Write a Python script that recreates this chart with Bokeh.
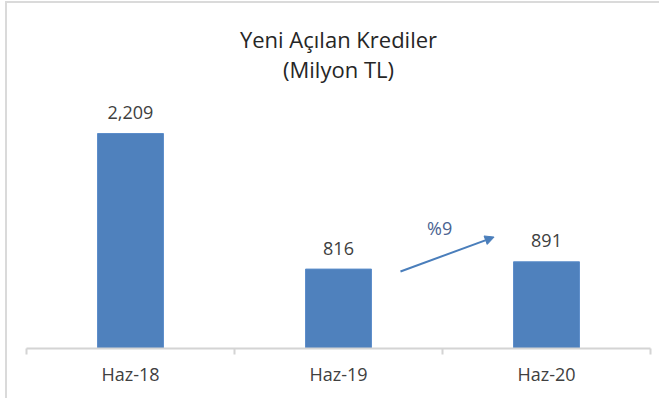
from bokeh.plotting import figure
from bokeh.models import (ColumnDataSource, Range1d, LinearAxis, FixedTicker,
                          LabelSet, Label, Arrow, NormalHead)
from bokeh.core.properties import value
from bokeh.embed import file_html
from bokeh.resources import INLINE

# ---- data ----
categories = ["Haz-18", "Haz-19", "Haz-20"]
values = [2209, 816, 891]
value_labels = [f"{v:,}" for v in values]
title_lines = ["Yeni Açılan Krediler", "(Milyon TL)"]
growth_label = "%9"

BAR = "#4F81BD"
FONT = "Open Sans"
GRID = "#d4d4d4"

centers = [i + 0.5 for i in range(len(categories))]
bounds = list(range(len(categories) + 1))
src = ColumnDataSource(dict(x=centers, val=values, lab=value_labels))

W, H = 654, 397
p = figure(width=W, height=H, output_backend="svg", toolbar_location=None,
           x_range=Range1d(0, len(categories)),
           y_range=Range1d(0, 3545), x_axis_type=None, y_axis_type=None,
           min_border_left=19, min_border_right=11, min_border_top=0, min_border_bottom=52)
p.outline_line_color = None
p.grid.visible = False
p.background_fill_color = "white"
p.border_fill_color = "white"
p.styles = {"margin-left": "5px", "margin-top": "1px",
            "border-left": "2px solid #dadada", "border-top": "2px solid #dadada"}

p.vbar(x="x", top="val", width=0.317, source=src, fill_color=BAR, line_color="#5b8dca", line_width=1)

# bottom axis: labels at category centers, tick marks at category boundaries
ax = LinearAxis(ticker=FixedTicker(ticks=centers, minor_ticks=bounds))
ax.major_label_overrides = {c: name for c, name in zip(centers, categories)}
ax.major_tick_line_color = None
ax.major_tick_out = 0
ax.major_tick_in = 0
ax.minor_tick_line_color = GRID
ax.minor_tick_line_width = 2
ax.minor_tick_out = 6
ax.minor_tick_in = 0
ax.axis_line_color = GRID
ax.axis_line_width = 2
ax.major_label_standoff = 7
ax.major_label_text_font = FONT
ax.major_label_text_font_size = "18px"
ax.major_label_text_color = "#404040"
p.add_layout(ax, "below")

labels = LabelSet(x="x", y="val", text="lab", source=src, y_offset=21,
                  text_align="center", text_baseline="middle",
                  text_font=value(FONT), text_font_size=value("18px"), text_color="#404040")
p.add_layout(labels)

for txt, yv in zip(title_lines, [3185, 2867]):
    p.add_layout(Label(x=1.5, y=yv, text=txt, text_align="center",
                       text_baseline="alphabetic", text_font=FONT, text_font_size="22px",
                       text_color="#262626"))

p.add_layout(Arrow(x_start=1.798, y_start=791, x_end=2.248, y_end=1145,
                   line_color="#4a7ebb", line_width=2,
                   end=NormalHead(size=9, fill_color="#4a7ebb", line_color="#4a7ebb")))
p.add_layout(Label(x=1.986, y=1235, text=growth_label, text_align="center",
                   text_baseline="middle", text_font=FONT, text_font_size="18px",
                   text_color="#4a6391"))

open("out.html", "w").write(file_html(p, INLINE))
